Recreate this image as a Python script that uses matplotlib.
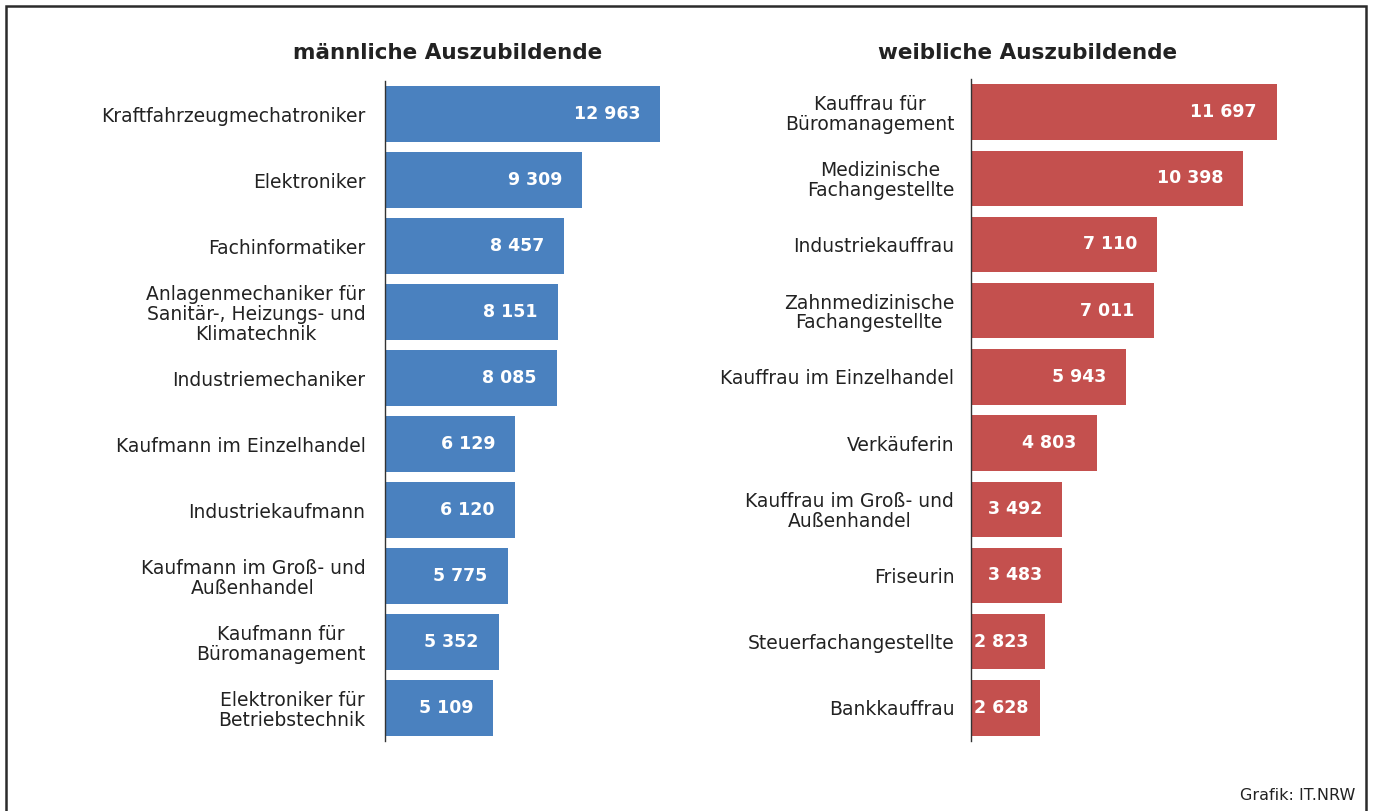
import matplotlib
matplotlib.use("Agg")
import matplotlib.pyplot as plt
from matplotlib.patches import Rectangle

plt.rcParams['font.family'] = ['DejaVu Sans']

male_labels = ["Kraftfahrzeugmechatroniker", "Elektroniker", "Fachinformatiker",
               "Anlagenmechaniker für\nSanitär-, Heizungs- und\nKlimatechnik",
               "Industriemechaniker", "Kaufmann im Einzelhandel", "Industriekaufmann",
               "Kaufmann im Groß- und\nAußenhandel", "Kaufmann für\nBüromanagement",
               "Elektroniker für\nBetriebstechnik"]
male_values = [12963, 9309, 8457, 8151, 8085, 6129, 6120, 5775, 5352, 5109]

female_labels = ["Kauffrau für\nBüromanagement", "Medizinische\nFachangestellte",
                 "Industriekauffrau", "Zahnmedizinische\nFachangestellte",
                 "Kauffrau im Einzelhandel", "Verkäuferin",
                 "Kauffrau im Groß- und\nAußenhandel", "Friseurin",
                 "Steuerfachangestellte", "Bankkauffrau"]
female_values = [11697, 10398, 7110, 7011, 5943, 4803, 3492, 3483, 2823, 2628]

W, H = 1373, 811
fig = plt.figure(figsize=(W / 100, H / 100), dpi=100)

def fx(px):
    return px / W

def fy(py):
    return 1 - py / H

# frame
fig.patches.append(Rectangle((fx(6), fy(830)), fx(1366) - fx(6), fy(6) - fy(830),
                             transform=fig.transFigure, fill=False,
                             edgecolor='#2b2b2b', linewidth=1.8, clip_on=False))

def panel(left, right, top, bottom, labels, values, color, xmax, title, title_x, pad):
    ax = fig.add_axes([fx(left), fy(bottom), fx(right) - fx(left), fy(top) - fy(bottom)])
    y = list(range(len(values)))
    ax.barh(y, values, height=0.835, color=color)
    ax.set_ylim(len(values) - 0.5, -0.5)
    ax.set_xlim(0, xmax)
    ax.set_yticks(y)
    ax.set_yticklabels(labels, fontsize=13.5, color='#222222', multialignment='center',
                       linespacing=1.05)
    ax.tick_params(axis='y', length=0, pad=pad)
    ax.set_xticks([])
    for s in ['top', 'right', 'bottom']:
        ax.spines[s].set_visible(False)
    ax.spines['left'].set_color('#333333')
    ax.spines['left'].set_linewidth(1.0)
    texts = []
    for yi, v in zip(y, values):
        lbl = f"{v:,}".replace(",", " ")
        t = ax.annotate(lbl, (v, yi), xytext=(-20, 0), textcoords='offset pixels',
                        ha='right', va='center', color='white', fontsize=12.5,
                        fontweight='bold')
        texts.append((t, v, yi))
    fig.canvas.draw()
    r = fig.canvas.get_renderer()
    for t, v, yi in texts:
        bb = t.get_window_extent(r)
        x0 = ax.transData.transform((0, yi))[0]
        if bb.x0 < x0 + 3:
            shift = (x0 + 3) - bb.x0
            t.xyann = (-20 + shift, 0)
    fig.text(fx(title_x), fy(53), title, ha='center', va='center', fontsize=15.5,
             fontweight='bold', color='#222222')
    return ax

panel(385, 700, 81, 741, male_labels, male_values, '#4A81BF', 315 / (275 / 12963),
      "männliche Auszubildende", 448, 14)
panel(971, 1340, 79, 741, female_labels, female_values, '#C4504E', 369 / (306 / 11697),
      "weibliche Auszubildende", 1028, 12)

fig.text(fx(1355), fy(795), "Grafik: IT.NRW", ha='right', va='center', fontsize=11.5,
         color='#222222')

fig.savefig("out.png", dpi=100)
